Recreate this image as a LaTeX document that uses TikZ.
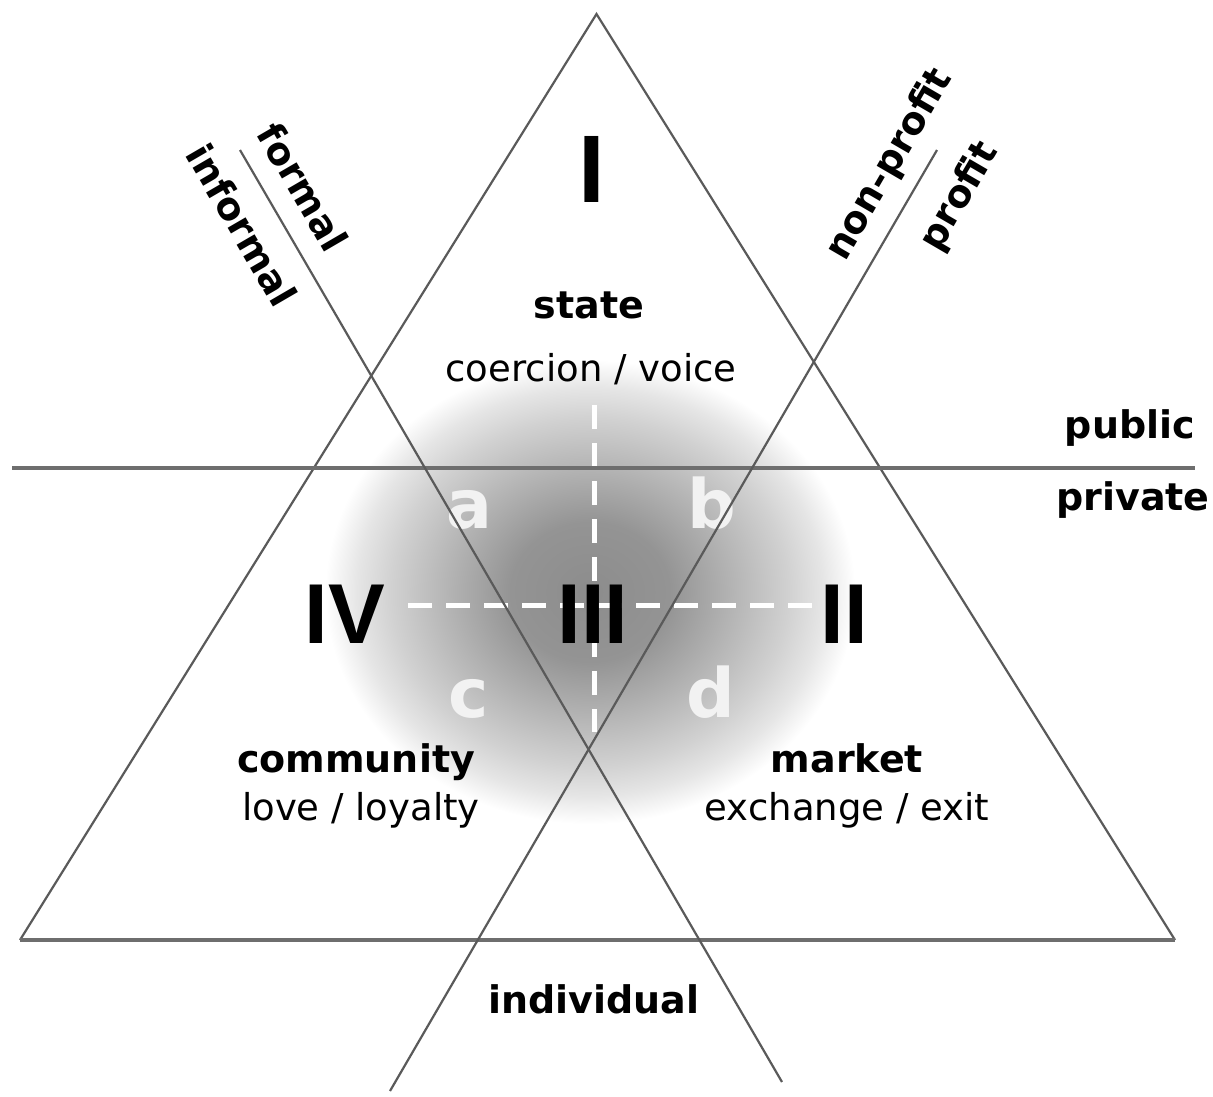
\documentclass[tikz,border=0pt]{standalone}
\usepackage{fontspec}
\setmainfont{DejaVu Sans}
\newfontfamily\numfont{Liberation Sans}
\definecolor{lin}{HTML}{5A5A5A}
\definecolor{hlin}{HTML}{6E6E6E}
\definecolor{g0}{gray}{0.55}
\definecolor{g1}{gray}{0.58}
\definecolor{g2}{gray}{0.66}
\definecolor{g3}{gray}{0.74}
\definecolor{g4}{gray}{0.82}
\definecolor{g5}{gray}{0.90}
\definecolor{letc}{gray}{0.95}
\pgfdeclareradialshading{blob}{\pgfpoint{0bp}{0bp}}{%
 color(0bp)=(g0); color(7.5bp)=(g1); color(11.25bp)=(g2); color(15bp)=(g3);
 color(18.75bp)=(g4); color(22bp)=(g5); color(25bp)=(white); color(50bp)=(white)}
\tikzset{
  thinline/.style={draw=lin, line width=2.2pt},
  thickline/.style={draw=hlin, line width=3.6pt},
  wdash/.style={draw=white, line width=5pt, dash pattern=on 24pt off 14pt},
  lbl/.style={font=\bfseries\fontsize{38}{40}\selectfont, inner sep=0pt},
  sub/.style={font=\fontsize{37}{40}\selectfont, inner sep=0pt},
  roman/.style={font=\numfont\bfseries\fontsize{85}{90}\selectfont, inner sep=0pt, anchor=base},
  abcd/.style={font=\bfseries\fontsize{68}{70}\selectfont, text=letc, inner sep=0pt, anchor=base},
  slant/.style={font=\bfseries\fontsize{38}{40}\selectfont, inner sep=0pt},
}
\begin{document}
\begin{tikzpicture}[x=1pt,y=-1pt]
\useasboundingbox (0,0) rectangle (1213,1096);
% shaded blob
\shade[shading=blob] (590,592) ellipse [x radius=265, y radius=232];
% dashed white cross
\coordinate (vt) at (594,405);
\coordinate (vb) at (594,732);
\coordinate (hl) at (408,605);
\coordinate (hr) at (812,605);
\draw[wdash] (vt) -- (vb);
\draw[wdash] (hl) -- (hr);
% small letters
\node[abcd] (la) at (469,528) {a};
\node[abcd] (lb) at (712,528) {b};
\node[abcd] (lc) at (469,717) {c};
\node[abcd] (ld) at (711,717) {d};
% triangle
\coordinate (apex) at (596.5,14);
\coordinate (bl) at (20,940);
\coordinate (br) at (1175,940);
\draw[thinline] (bl) -- (apex) -- (br);
\draw[thickline] (bl) -- (br);
% public / private line
\coordinate (pl) at (12,468);
\coordinate (pr) at (1195,468);
\draw[thickline] (pl) -- (pr);
% formal/informal line and profit line
\coordinate (f1) at (240,150);
\coordinate (f2) at (782,1082);
\coordinate (p1) at (937,150);
\coordinate (p2) at (390,1091);
\draw[thinline] (f1) -- (f2);
\draw[thinline] (p1) -- (p2);
% roman numerals
\node[roman, font=\numfont\bfseries\fontsize{96}{100}\selectfont] (r1) at (592,202) {I};
\node[roman] (r4) at (345,643) {IV};
\node[roman] (r3) at (593,643) {III};
\node[roman] (r2) at (844,643) {II};
% labels
\node[lbl, anchor=base] (state) at (589,318) {state};
\node[sub, anchor=base] (cv) at (591,381) {coercion / voice};
\node[lbl, anchor=base] (comm) at (356,772) {community};
\node[sub, anchor=base] (ll) at (361,820) {love / loyalty};
\node[lbl, anchor=base] (mkt) at (847,772) {market};
\node[sub, anchor=base] (ee) at (847,820) {exchange / exit};
\node[lbl, anchor=base] (pub) at (1130,438) {public};
\node[lbl, anchor=base] (priv) at (1133,510) {private};
\node[lbl, anchor=base] (ind) at (594,1013) {individual};
% slanted labels
\node[slant, rotate=-59.8] (formal) at (303,187) {formal};
\node[slant, rotate=-59.8] (informal) at (242,225) {informal};
\node[slant, rotate=59.8] (np) at (890,165) {non-profit};
\node[slant, rotate=59.8] (pf) at (960,197) {profit};
\end{tikzpicture}
\end{document}
